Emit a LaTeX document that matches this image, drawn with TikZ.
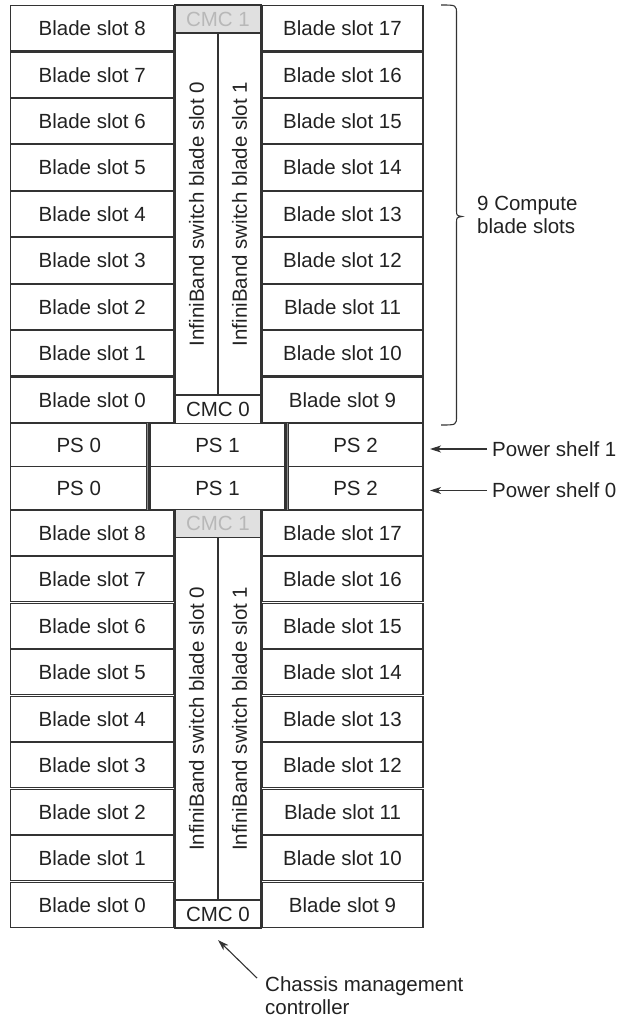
\documentclass[tikz,border=0pt]{standalone}
\usepackage{fontspec}
\setmainfont{Liberation Sans}
\usetikzlibrary{arrows.meta}
\definecolor{ln}{HTML}{333333}
\definecolor{tx}{HTML}{222222}
\tikzset{
  slotbox/.style={draw=ln, line width=1.1pt, rectangle, inner sep=0pt, text=tx, minimum height=45.3pt},
  lslot/.style={slotbox, minimum width=163.5pt},
  rslot/.style={slotbox, minimum width=161pt},
  cmcbox/.style={draw=ln, line width=1.1pt, rectangle, inner sep=0pt, text=tx, minimum width=86pt, minimum height=28pt},
  cmcgray/.style={cmcbox, fill=black!12, text=black!28},
  swbox/.style={draw=ln, line width=1.1pt, rectangle, inner sep=0pt, text=tx, rotate=90, minimum width=362pt, minimum height=43pt},
  psbox/.style={draw=ln, line width=1.1pt, rectangle, inner sep=0pt, text=tx, minimum height=42.5pt},
  lbl/.style={inner sep=0pt, text=tx, align=left},
  arr/.style={draw=ln, line width=1.1pt, -{Stealth[length=11pt,width=7pt,inset=3pt]}},
}
\begin{document}
\begin{tikzpicture}[x=1pt,y=-1pt,font=\fontsize{20.5}{25}\selectfont]
\useasboundingbox (0,0) rectangle (620,1021);
% two blade blocks
\foreach \blk/\yo/\hh in {t/5/46.45, b/509.5/46.5}{
  \foreach \k in {0,...,8}{
    \pgfmathtruncatemacro{\ln}{8-\k}
    \pgfmathtruncatemacro{\rn}{17-\k}
    \node[lslot] (\blk-l-\ln) at (92.25,{\yo+(\k+0.5)*\hh}) {Blade slot \ln};
    \node[rslot] (\blk-r-\rn) at (342.5,{\yo+(\k+0.5)*\hh}) {Blade slot \rn};
  }
  \node[cmcgray] (\blk-cmc1) at (218,{\yo+14}) {CMC 1};
  \node[cmcbox] (\blk-cmc0) at (218,{\yo+9*\hh-14}) {CMC 0};
  \node[swbox] (\blk-sw0) at (196.5,{\yo+14+9*\hh/2-14}) {InfiniBand switch blade slot 0};
  \node[swbox] (\blk-sw1) at (239.5,{\yo+14+9*\hh/2-14}) {InfiniBand switch blade slot 1};
}
% power shelves
\foreach \s/\yc in {1/445, 0/488}{
  \node[psbox, minimum width=136.5pt] (ps\s-0) at (78.75,\yc) {PS 0};
  \node[psbox, minimum width=135pt] (ps\s-1) at (217.5,\yc) {PS 1};
  \node[psbox, minimum width=135pt] (ps\s-2) at (355.5,\yc) {PS 2};
  \draw[draw=ln, line width=0.9pt, double=black!45, double distance=1.4pt] (ps\s-0.north east) -- (ps\s-0.south east);
  \draw[draw=ln, line width=0.9pt, double=black!45, double distance=1.4pt] (ps\s-2.north west) -- (ps\s-2.south west);
}
% brace
\draw[draw=ln, line width=1.1pt] (441,5) .. controls (456.5,5) .. (456.5,14) -- (456.5,210)
  .. controls (456.5,215.5) .. (462,216.5) .. controls (456.5,217.5) .. (456.5,223)
  -- (456.5,416) .. controls (456.5,425) .. (441,425);
\node[lbl, anchor=north west] (brlbl) at (477,195.5) {9 Compute\\[-1.5pt]blade slots};
% power shelf labels
\node[lbl, anchor=west] (pl1) at (492,449) {Power shelf 1};
\node[lbl, anchor=west] (pl0) at (492,490.5) {Power shelf 0};
\coordinate (a1) at (430,449);
\coordinate (a0) at (430,490.5);
\draw[arr] ([xshift=-5pt]pl1.west) -- (a1);
\draw[arr] ([xshift=-5pt]pl0.west) -- (a0);
% chassis management controller
\node[lbl, anchor=north west] (cmclbl) at (265,976) {Chassis management\\[-1.5pt]controller};
\coordinate (cmctip) at (218,940);
\coordinate (cmctail) at (257,978);
\draw[arr] (cmctail) -- (cmctip);
\end{tikzpicture}
\end{document}
